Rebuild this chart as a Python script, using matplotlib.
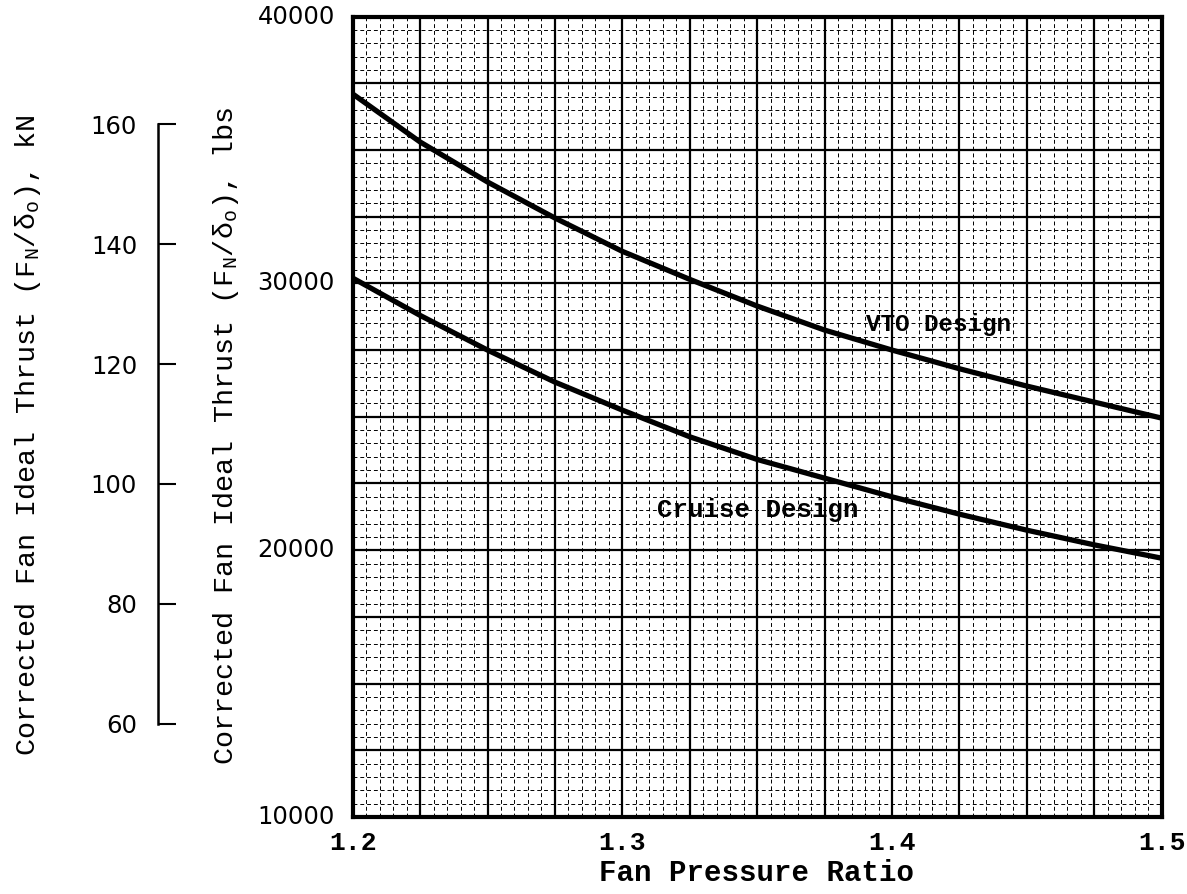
import numpy as np
import matplotlib
matplotlib.use('Agg')
import matplotlib.pyplot as plt
from matplotlib.ticker import MultipleLocator

plt.rcParams['mathtext.fontset'] = 'custom'
plt.rcParams['mathtext.rm'] = 'Liberation Mono'
plt.rcParams['mathtext.it'] = 'Liberation Mono'

# 讀圖估計的數據 (Fan Pressure Ratio vs thrust, lbs)
fpr = [1.2, 1.225, 1.25, 1.275, 1.3, 1.325, 1.35, 1.375, 1.4, 1.425, 1.45, 1.475, 1.5]
vto_lbs = [37100, 35300, 33800, 32450, 31200, 30150, 29150, 28250, 27500, 26800, 26150, 25550, 24950]
cruise_lbs = [30200, 28800, 27500, 26300, 25250, 24250, 23400, 22700, 22000, 21350, 20750, 20200, 19700]

x_ticks = [1.2, 1.3, 1.4, 1.5]
x_ticklabels = ['1.2', '1.3', '1.4', '1.5']
y_ticks = [10000, 20000, 30000, 40000]
kn_ticks = [60, 80, 100, 120, 140, 160]
LBS_TO_KN = 4.44822e-3

mono = 'Liberation Mono'

fig = plt.figure(figsize=(11.87, 8.94), dpi=100)
ax = fig.add_axes([0.2971, 0.0861, 0.6816, 0.8954])

ax.plot(fpr, vto_lbs, color='k', lw=3.8, solid_capstyle='butt', solid_joinstyle='round', zorder=5)
ax.plot(fpr, cruise_lbs, color='k', lw=3.8, solid_capstyle='butt', solid_joinstyle='round', zorder=5)

ax.set_xlim(1.2, 1.5)
ax.set_ylim(10000, 40000)

# 格線
ax.xaxis.set_major_locator(MultipleLocator(0.025))
ax.xaxis.set_minor_locator(MultipleLocator(0.005))
ax.yaxis.set_major_locator(MultipleLocator(2500))
ax.yaxis.set_minor_locator(MultipleLocator(500))
ax.grid(which='major', color='k', lw=1.6)
ax.grid(which='minor', color='k', lw=0.7, ls=(0, (4, 3)))
ax.tick_params(which='both', length=0)
ax.set_xticklabels([])
ax.set_yticklabels([])

for xv, lab in zip(x_ticks, x_ticklabels):
    ax.text(xv, -0.017, lab, transform=ax.get_xaxis_transform(), ha='center', va='top',
            family=mono, fontweight='bold', fontsize=19)
for yv in y_ticks:
    ax.text(-0.022, yv, str(yv), transform=ax.get_yaxis_transform(), ha='right', va='center',
            family='DejaVu Sans', fontsize=17.5)

for s in ax.spines.values():
    s.set_linewidth(3)

ax.text(1.4174, 28450, 'VTO Design', ha='center', va='center', family=mono,
        fontweight='bold', fontsize=17.5, zorder=6)
ax.text(1.3503, 21512, 'Cruise Design', ha='center', va='center', family=mono,
        fontweight='bold', fontsize=18.5, zorder=6)

fig.text(0.6377, 0.023, 'Fan Pressure Ratio', ha='center', va='center', family=mono,
         fontweight='bold', fontsize=21)

# kN 軸
ax_kn = ax.twinx()
ax_kn.set_ylim(10000 * LBS_TO_KN, 40000 * LBS_TO_KN)
for k in ['right', 'top', 'bottom']:
    ax_kn.spines[k].set_visible(False)
ax_kn.spines['left'].set_visible(True)
ax_kn.spines['left'].set_position(('axes', -0.2407))
ax_kn.spines['left'].set_bounds(60, 160)
ax_kn.spines['left'].set_linewidth(1.8)
ax_kn.yaxis.tick_left()
ax_kn.set_yticks(kn_ticks)
ax_kn.set_yticklabels([str(k) for k in kn_ticks], family='DejaVu Sans', fontsize=17.5)
ax_kn.tick_params(axis='y', direction='in', length=13, width=1.5, pad=15)

fig.text(0.19, 0.513, 'Corrected Fan Ideal Thrust (F$_\\mathrm{N}$/δ$_\\mathrm{o}$), lbs',
         rotation=90, ha='center', va='center', family=mono, fontsize=20.5)
fig.text(0.024, 0.513, 'Corrected Fan Ideal Thrust (F$_\\mathrm{N}$/δ$_\\mathrm{o}$), kN',
         rotation=90, ha='center', va='center', family=mono, fontsize=20.5)

fig.savefig('out.png', dpi=100)
